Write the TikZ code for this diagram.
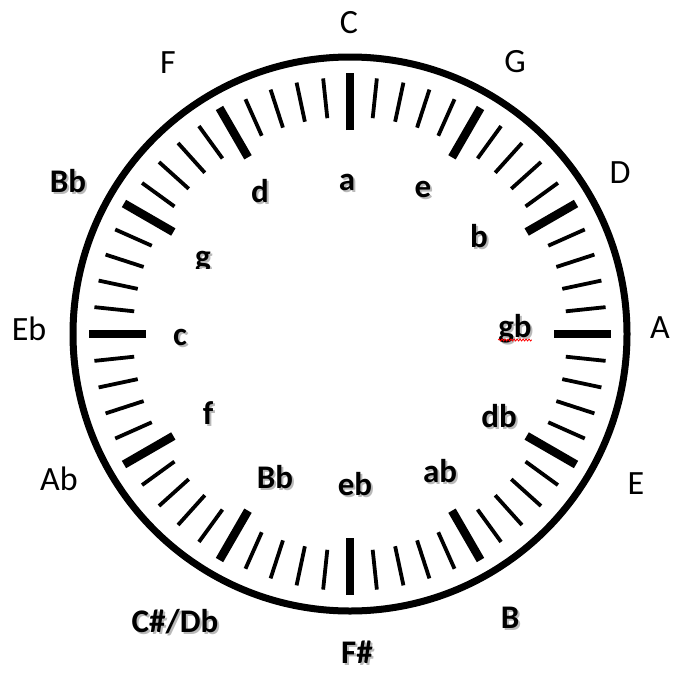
\documentclass[tikz,border=0pt]{standalone}
\usepackage{fontspec}
\setmainfont{Carlito}
\usetikzlibrary{decorations.pathmorphing}
\newcommand{\shlbl}[1]{\makebox[0pt][l]{\hspace{2pt}\raisebox{-2pt}{\textcolor{gray!55}{#1}}}#1}

\begin{document}
\begin{tikzpicture}[
    x=1pt, y=-1pt,
    key/.style={font=\fontsize{34}{40}\selectfont, inner sep=0pt, anchor=base},
    shkey/.style={key, font=\fontsize{33}{40}\selectfont\bfseries},
    minortick/.style={line width=3.8pt},
    majortick/.style={line width=8.5pt}
]
\useasboundingbox (0,0) rectangle (693,680);

% Dial
\coordinate (ctr) at (350,334);
\draw[line width=7pt] (ctr) circle[radius=277];

% Ticks
\foreach \a in {0,6,...,354}
    \draw[minortick, shift={(ctr)}] (\a:217) -- (\a:257);
\foreach \a in {0,30,...,330}
    \draw[majortick, shift={(ctr)}] (\a:204) -- (\a:261);

% Outer keys
\node[key] (C) at (349,33) {C};
\node[key] (G) at (515,72) {G};
\node[key] (D) at (620,183) {D};
\node[key] (A) at (660,338) {A};
\node[key] (E) at (636,494) {E};
\node[shkey] (B) at (510,628) {\shlbl{B}};
\node[shkey] (Fs) at (357,663) {\shlbl{F\#}};
\node[shkey] (CsDb) at (175,632) {\shlbl{C\#/Db}};
\node[key] (Ab) at (59,490) {Ab};
\node[key] (Eb) at (29,340) {Eb};
\node[shkey] (Bb) at (68,192) {\shlbl{Bb}};
\node[key] (F) at (168,73) {F};

% Inner keys
\node[shkey] (a) at (347,190) {\shlbl{a}};
\node[shkey] (e) at (423,197) {\shlbl{e}};
\node[shkey] (b) at (479,247) {\shlbl{b}};
\node[shkey] (gb) at (515,337) {\shlbl{gb}};
\node[shkey] (db) at (499,427) {\shlbl{db}};
\node[shkey] (ab) at (440,482) {\shlbl{ab}};
\node[shkey] (eb) at (355,495) {\shlbl{eb}};
\node[shkey] (bbm) at (275,488) {\shlbl{Bb}};
\node[shkey] (f) at (208,424) {\shlbl{f}};
\node[shkey] (c) at (180,345) {\shlbl{c}};
\begin{scope}
    \clip (170,230) rectangle (240,268);
    \node[shkey] (g) at (203,267) {\shlbl{g}};
\end{scope}
\node[shkey] (d) at (260,202) {\shlbl{d}};

% Spelling mark
\draw[red, line width=0.8pt, decorate, decoration={snake, amplitude=1pt, segment length=3pt}]
    ([yshift=-3pt]gb.base west) -- ([yshift=-3pt]gb.base east);
\end{tikzpicture}
\end{document}
